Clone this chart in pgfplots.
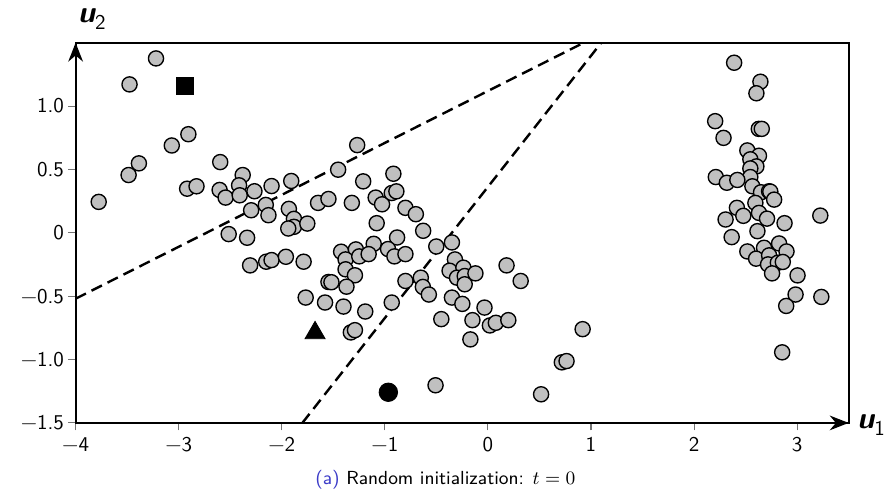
\documentclass[border=0pt]{standalone}
\usepackage{fontspec}
\usepackage{pgfplots}
\pgfplotsset{compat=1.18}
\usetikzlibrary{arrows.meta}
\renewcommand{\familydefault}{\sfdefault}

\definecolor{capblue}{RGB}{60,60,200}
\definecolor{dotgrey}{RGB}{192,192,192}

% samples at t = 0
\pgfplotstableread{
x y
-3.220 1.376
-3.477 1.171
-2.906 0.778
-3.067 0.689
-3.386 0.548
-3.486 0.456
-3.776 0.244
-2.918 0.348
-2.827 0.367
-2.597 0.558
-2.379 0.456
-2.414 0.375
-2.603 0.338
-2.545 0.278
-2.408 0.296
-2.265 0.328
-2.099 0.369
-1.908 0.409
-1.453 0.498
-1.268 0.692
-2.297 0.178
-2.155 0.220
-2.129 0.139
-1.931 0.189
-1.882 0.110
-1.882 0.047
-1.937 0.034
-1.752 0.073
-1.648 0.236
-1.547 0.267
-1.320 0.236
-1.210 0.406
-2.515 -0.010
-2.336 -0.039
-2.307 -0.257
-2.151 -0.228
-2.099 -0.215
-1.960 -0.189
-1.788 -0.228
-1.547 -0.388
-1.768 -0.511
-0.917 0.466
-1.089 0.278
-1.027 0.225
-0.933 0.314
-0.888 0.327
-0.800 0.197
-0.699 0.147
-1.079 0.076
-0.628 0.016
-0.881 -0.037
-1.108 -0.087
-1.424 -0.149
-1.281 -0.131
-1.381 -0.210
-1.248 -0.186
-1.157 -0.168
-0.969 -0.128
-0.907 -0.186
-0.800 -0.168
-0.501 -0.108
-0.349 -0.076
-1.381 -0.288
-1.290 -0.335
-1.372 -0.425
-1.518 -0.390
-1.580 -0.550
-1.401 -0.582
-1.190 -0.621
-1.330 -0.786
-1.290 -0.768
-0.933 -0.550
-0.800 -0.380
-0.651 -0.354
-0.631 -0.427
-0.573 -0.487
-0.320 -0.210
-0.372 -0.299
-0.238 -0.275
-0.300 -0.354
-0.225 -0.341
-0.225 -0.406
-0.121 -0.320
0.181 -0.257
0.318 -0.380
-0.349 -0.511
-0.248 -0.561
-0.033 -0.590
-0.452 -0.681
-0.150 -0.689
0.019 -0.731
0.077 -0.710
0.198 -0.689
-0.170 -0.841
0.919 -0.760
0.717 -1.022
0.763 -1.012
-0.508 -1.203
0.516 -1.274
2.389 1.342
2.644 1.192
2.605 1.101
2.205 0.881
2.286 0.749
2.628 0.820
2.657 0.820
2.517 0.650
2.630 0.608
2.546 0.580
2.605 0.524
2.546 0.508
2.546 0.440
2.211 0.440
2.318 0.395
2.420 0.417
2.566 0.367
2.650 0.320
2.728 0.328
2.740 0.325
2.777 0.262
2.595 0.236
2.416 0.197
2.478 0.134
2.306 0.105
2.630 0.157
2.708 0.112
2.878 0.076
3.225 0.136
2.615 0.013
2.365 -0.034
2.517 -0.147
2.679 -0.118
2.825 -0.084
2.897 -0.147
2.602 -0.204
2.728 -0.178
2.718 -0.249
2.813 -0.236
2.861 -0.230
2.757 -0.320
3.004 -0.336
2.985 -0.487
2.894 -0.577
3.235 -0.506
2.855 -0.943
}\samples

\begin{document}
\begin{tikzpicture}
\begin{axis}[
  scale only axis,
  width=368pt, height=181pt,
  xmin=-4, xmax=3.5, ymin=-1.5, ymax=1.5,
  axis line style={line width=0.95pt},
  xtick={-4,-3,-2,-1,0,1,2,3},
  xticklabels={−4,−3,−2,−1,0,1,2,3},
  ytick={-1.5,-1,-0.5,0,0.5,1},
  yticklabels={−1.5,−1.0,−0.5,0,0.5,1.0},
  xtick pos=lower, ytick pos=left,
  tick align=outside,
  major tick length=3.5pt,
  tick style={black!55, line width=0.5pt},
  yticklabel style={xshift=1.5pt},
  xlabel={\small\textcolor{capblue}{(a)} Random initialization: $t=0$},
  xlabel style={xshift=-8pt, yshift=-1.5pt},
]
% boundaries
\addplot[black, line width=1.15pt, dash pattern=on 5.5pt off 3pt] coordinates {(-4,-0.52) (0.93,1.5)};
\addplot[black, line width=1.15pt, dash pattern=on 5.5pt off 3pt] coordinates {(-1.80,-1.5) (1.10,1.5)};
% data
\addplot[only marks, mark=*, mark size=3.6pt,
  mark options={fill=dotgrey, draw=black, line width=0.65pt}] table {\samples};
% centroids
\addplot[only marks, mark=square*, mark size=4pt, black] coordinates {(-2.94,1.161)};
\addplot[only marks, mark=triangle*, mark size=5.5pt, black] coordinates {(-1.677,-0.79)};
\addplot[only marks, mark=*, mark size=4.4pt, black] coordinates {(-0.966,-1.258)};
\end{axis}
\draw[line width=0.95pt, -{Stealth[length=9pt,width=7pt]}] (current axis.south west) -- (current axis.north west);
\draw[line width=0.95pt, -{Stealth[length=9pt,width=7pt]}] (current axis.south west) -- (current axis.south east);
\node[anchor=west, inner sep=0pt, xshift=4pt, yshift=-1pt] at (current axis.south east) {{\Large\bfseries\itshape u}\textsubscript{\normalsize 1}};
\node[anchor=south west, inner sep=0pt, xshift=1pt, yshift=6pt] (ulab) at (current axis.north west) {{\Large\bfseries\itshape u}\textsubscript{\normalsize 2}};
% white margin as in the original figure
\path ([yshift=4pt]ulab.north);
\path ([xshift=-36pt]current axis.west);
\end{tikzpicture}
\end{document}
